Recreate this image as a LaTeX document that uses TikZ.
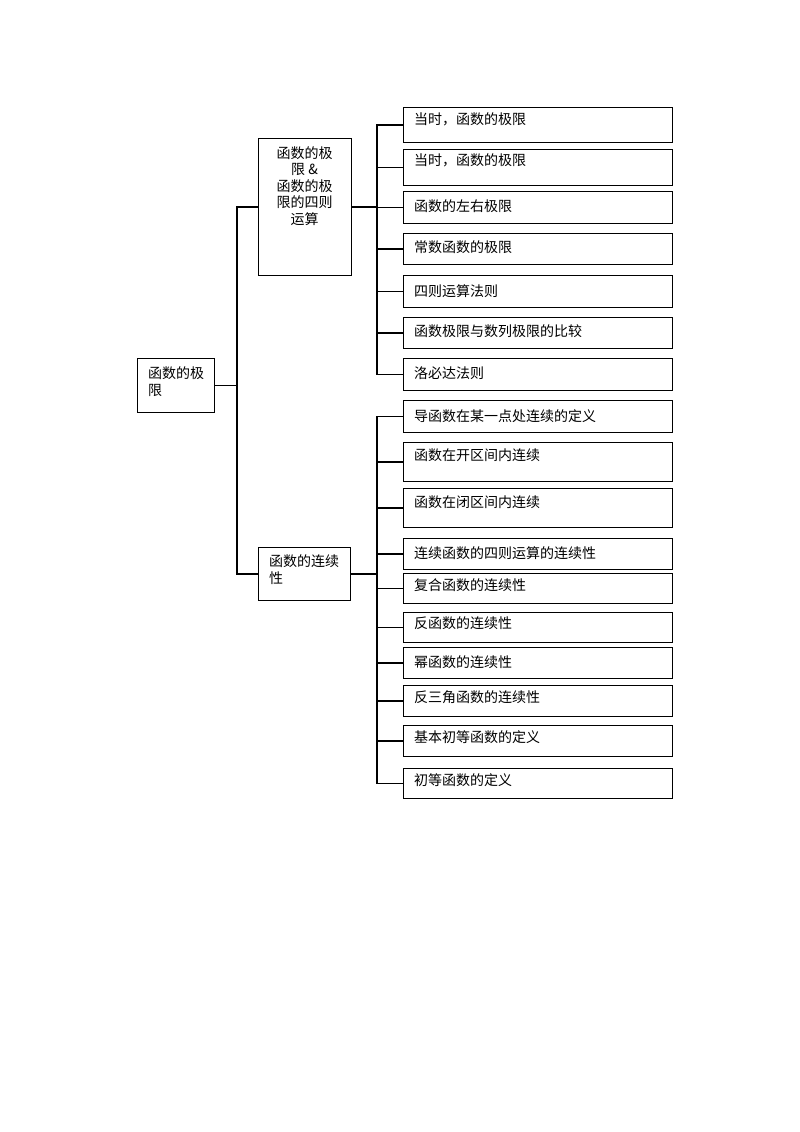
\documentclass[tikz,border=0pt]{standalone}
\usepackage{fontspec}
\newfontfamily\cjk{Noto Sans CJK SC}
\begin{document}
\begin{tikzpicture}[x=1pt,y=-1pt,
  box/.style={draw, line width=0.9pt, inner sep=0pt, anchor=north west},
  leafbox/.style={box, minimum width=269pt},
  txt/.style={font=\cjk\fontsize{14}{17}\selectfont, inner sep=0pt, anchor=west, align=left},
  link/.style={line width=1.2pt, line cap=rect}]
\useasboundingbox[fill=white] (0,0) rectangle (800,1132);

% root
\node[box, minimum width=77pt, minimum height=54pt] (root) at (137,358) {};
\node[txt] (roott) at (148,381.5) {函数的极\\限};

% level 1
\node[box, minimum width=93pt, minimum height=137pt] (b1) at (258,138) {};
\node[txt, anchor=center, align=center, font=\cjk\fontsize{14}{16.5}\selectfont] (b1t) at (304.5,186) {函数的极\\限 \&\\函数的极\\限的四则\\运算};
\node[box, minimum width=92pt, minimum height=53pt] (b2) at (258,547) {};
\node[txt] (b2t) at (269,570) {函数的连续\\性};

% leaves of b1
\node[leafbox, minimum height=35pt] (la) at (403,107) {};
\node[txt] (lat) at (414,119) {当时，函数的极限};
\node[leafbox, minimum height=36pt] (lb) at (403,149) {};
\node[txt] (lbt) at (414,160) {当时，函数的极限};
\node[leafbox, minimum height=32pt] (lc) at (403,191) {};
\node[txt] (lct) at (414,206) {函数的左右极限};
\node[leafbox, minimum height=31pt] (ld) at (403,233) {};
\node[txt] (ldt) at (414,247) {常数函数的极限};
\node[leafbox, minimum height=32pt] (le) at (403,275) {};
\node[txt] (let) at (414,291) {四则运算法则};
\node[leafbox, minimum height=31pt] (lf) at (403,317) {};
\node[txt] (lft) at (414,331) {函数极限与数列极限的比较};
\node[leafbox, minimum height=32pt] (lg) at (403,358) {};
\node[txt] (lgt) at (414,373) {洛必达法则};

% leaves of b2
\node[leafbox, minimum height=32pt] (lh) at (403,400) {};
\node[txt] (lht) at (414,416) {导函数在某一点处连续的定义};
\node[leafbox, minimum height=39pt] (li) at (403,442) {};
\node[txt] (lit) at (414,455) {函数在开区间内连续};
\node[leafbox, minimum height=39pt] (lj) at (403,488) {};
\node[txt] (ljt) at (414,502) {函数在闭区间内连续};
\node[leafbox, minimum height=31pt] (lk) at (403,538) {};
\node[txt] (lkt) at (414,553) {连续函数的四则运算的连续性};
\node[leafbox, minimum height=30pt] (ll) at (403,573) {};
\node[txt] (llt) at (414,585) {复合函数的连续性};
\node[leafbox, minimum height=30pt] (lm) at (403,612) {};
\node[txt] (lmt) at (414,623) {反函数的连续性};
\node[leafbox, minimum height=31pt] (ln) at (403,647) {};
\node[txt] (lnt) at (414,662) {幂函数的连续性};
\node[leafbox, minimum height=31pt] (lo) at (403,685) {};
\node[txt] (lot) at (414,697) {反三角函数的连续性};
\node[leafbox, minimum height=31pt] (lp) at (403,725) {};
\node[txt] (lpt) at (414,737) {基本初等函数的定义};
\node[leafbox, minimum height=30pt] (lq) at (403,768) {};
\node[txt] (lqt) at (414,780) {初等函数的定义};

% connectors
\coordinate (j0) at (237,385);
\coordinate (j1) at (377,207);
\coordinate (j2) at (377,573);
\draw[link] (root.east) -- (j0 |- root.east);
\draw[link] (j0 |- b1.west) -- (b1.west);
\draw[link] (j0 |- b1.west) -- (j0 |- b2.west) -- (b2.west);

\draw[link] (b1.east) -- (j1 |- b1.east);
\draw[link] (j1 |- la.west) -- (j1 |- lg.west);
\foreach \n in {la,lb,lc,ld,le,lf,lg}
  \draw[link] (j1 |- \n.west) -- (\n.west);

\draw[link] (b2.east) -- (j2 |- b2.east);
\draw[link] (j2 |- lh.west) -- (j2 |- lq.west);
\foreach \n in {lh,li,lj,lk,ll,lm,ln,lo,lp,lq}
  \draw[link] (j2 |- \n.west) -- (\n.west);
\end{tikzpicture}
\end{document}
